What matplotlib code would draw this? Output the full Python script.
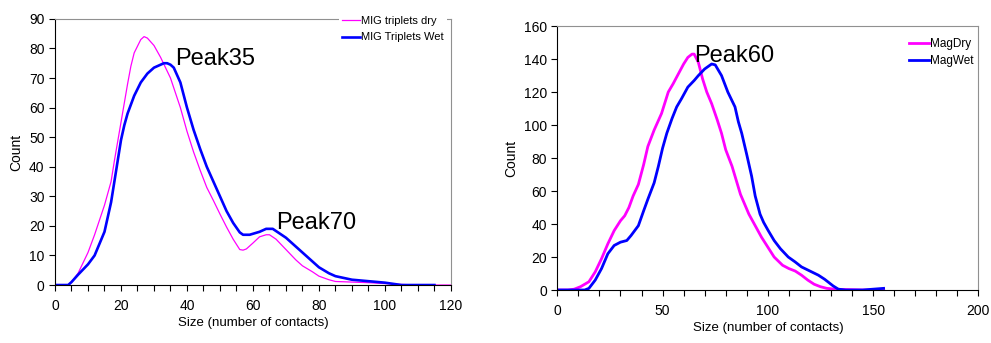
import numpy as np
import matplotlib.pyplot as plt
from matplotlib.ticker import MultipleLocator

plt.rcParams['font.family'] = ['Liberation Sans', 'DejaVu Sans']

# left chart: MIG triplets
mig_x_dry = [0, 4, 5, 7, 10, 12, 15, 17, 18, 20, 22, 23, 24, 26, 27, 28, 30, 32, 35, 38, 40, 42, 44, 46, 48, 50, 52,
             54, 56, 57, 58, 60, 62, 64, 65, 67, 70, 73, 75, 78, 80, 83, 85, 90, 95, 100, 105, 110, 115, 120]
mig_dry = [0, 0, 1, 4, 11, 17, 27, 35, 42, 55, 68, 74, 78.5, 83, 84, 83.5, 81, 77, 70, 60, 52, 45, 38.8, 33, 28.6, 24,
           19.6, 15.5, 12, 11.8, 12.2, 14.2, 16.3, 17, 17, 15.5, 12, 8.5, 6.5, 4.5, 3, 1.8, 1.2, 1, 0.8, 0.5, 0.2, 0,
           0, 0]
mig_x_wet = [0, 4, 5, 7, 10, 12, 15, 17, 18, 19, 20, 21, 22, 24, 26, 28, 30, 32, 33, 34, 35, 36, 38, 40, 42, 44, 46,
             48, 50, 52, 54, 56, 57, 59, 62, 64, 66, 70, 75, 78, 80, 83, 85, 90, 95, 100, 105, 110, 115]
mig_wet = [0, 0, 1, 3.5, 7, 10, 18, 28, 35, 42, 49, 54, 58, 64, 68.5, 71.5, 73.5, 74.5, 75, 75, 74.5, 73.5, 68.5, 60,
           52.5, 46, 40, 35, 30, 25, 21, 17.8, 17, 17, 18, 19, 19, 16, 11, 8, 6, 4, 3, 1.8, 1.3, 0.8, 0, 0, 0]

# right chart: Mag
mag_x_dry = [0, 5, 8, 11, 15, 18, 21, 24, 27, 30, 32, 34, 36, 38.5, 41, 43, 46, 49.5, 52.7, 55, 57.5, 60, 62, 64, 65, 67,
             69, 71, 73.3, 76, 78, 80, 83, 87, 91, 94, 97, 100, 103, 107, 110, 113, 116, 119, 122, 125, 128, 132, 136,
             145, 155]
mag_dry = [0, 0, 0.5, 2, 5, 11, 19, 28, 36, 42, 45, 50, 57, 64, 76, 87, 97, 107, 120, 125, 131, 137, 141, 143, 143, 138,
           128, 120, 113, 103, 95, 85, 75, 58, 46, 39, 32, 26, 20, 15, 13, 11.5, 9, 6, 3.5, 2, 1, 0.5, 0.3, 0, 0]
mag_x_wet = [0, 10, 13, 15, 18, 21, 24, 27, 30, 33, 35, 38.5, 41, 43, 46, 48, 50, 52, 54.5, 56.7, 59, 62, 65, 67, 70,
             73.3, 75, 78, 81, 84.4, 86, 87.6, 90, 92.3, 94, 96.3, 98, 100.2, 103, 106, 109.7, 113, 116, 120, 124, 127,
             129, 131, 133.5, 137, 145, 150, 155]
mag_wet = [0, 0, 0, 1, 6, 13, 22, 27, 29, 30, 33, 39, 48, 55, 65, 75, 86, 95, 104, 111, 116, 123, 127, 130, 134, 137,
           136.5, 130, 120, 111, 102, 95, 82, 69, 57, 46, 41, 36, 30, 25, 20, 17, 14, 11.5, 9, 6.5, 4.5, 2.5, 0.5, 0,
           0, 0.5, 1]

fig = plt.figure(figsize=(9.91, 3.43), dpi=100)
ax1 = fig.add_axes([0.0555, 0.169, 0.3995, 0.776])
ax2 = fig.add_axes([0.5624, 0.1545, 0.4248, 0.7695])

ax1.plot(mig_x_dry, mig_dry, color='#ff00ff', lw=0.9, solid_joinstyle='round', label='MIG triplets dry')
ax1.plot(mig_x_wet, mig_wet, color='#0000ff', lw=1.9, solid_joinstyle='round', label='MIG Triplets Wet')
ax1.set_xlim(0, 120)
ax1.set_ylim(0, 90)
ax1.xaxis.set_major_locator(MultipleLocator(20))
ax1.xaxis.set_minor_locator(MultipleLocator(5))
ax1.yaxis.set_major_locator(MultipleLocator(10))
ax1.text(36.5, 76.5, 'Peak35', fontsize=17, va='center', ha='left')
ax1.text(67, 21, 'Peak70', fontsize=17, va='center', ha='left')
leg1 = ax1.legend(loc='upper right', bbox_to_anchor=(1.005, 1.045), fontsize=8, frameon=True, framealpha=1,
                  edgecolor='white', fancybox=False, handlelength=1.6, handletextpad=0.1, borderpad=0.3,
                  labelspacing=0.6)
leg1.get_frame().set_linewidth(0)
for t in leg1.get_texts():
    t.set_stretch('condensed')

ax2.plot(mag_x_dry, mag_dry, color='#ff00ff', lw=2, solid_joinstyle='round', label='MagDry')
ax2.plot(mag_x_wet, mag_wet, color='#0000ff', lw=2, solid_joinstyle='round', label='MagWet')
ax2.set_xlim(0, 200)
ax2.set_ylim(0, 160)
ax2.xaxis.set_major_locator(MultipleLocator(50))
ax2.xaxis.set_minor_locator(MultipleLocator(10))
ax2.yaxis.set_major_locator(MultipleLocator(20))
ax2.text(65, 142, 'Peak60', fontsize=17, va='center', ha='left')
leg2 = ax2.legend(loc='upper right', bbox_to_anchor=(1.012, 0.99), fontsize=8.5, frameon=True, framealpha=1,
                  edgecolor='white', fancybox=False, handlelength=1.7, handletextpad=0.1, borderpad=0.3,
                  labelspacing=0.45)
leg2.get_frame().set_linewidth(0)

for ax in (ax1, ax2):
    ax.spines['top'].set_color('#909090')
    ax.spines['right'].set_color('#909090')
    ax.spines['left'].set_linewidth(0.8)
    ax.spines['bottom'].set_linewidth(0.8)
    ax.tick_params(which='both', direction='out', length=4, width=0.8, labelsize=10)
    ax.tick_params(axis='x', pad=6)
    ax.set_xlabel('Size (number of contacts)', fontsize=9.5, labelpad=3)
    ax.set_ylabel('Count', fontsize=10, labelpad=4)

fig.savefig('out.png', dpi=100)
